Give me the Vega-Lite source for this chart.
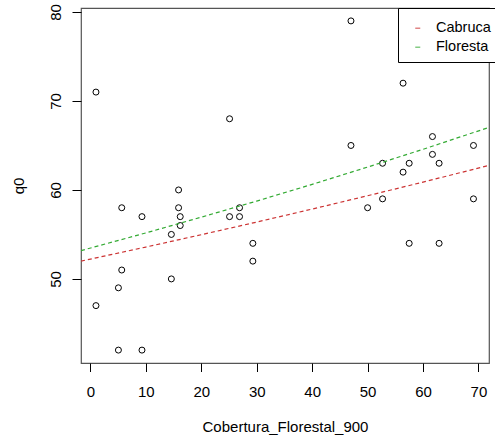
{
  "$schema": "https://vega.github.io/schema/vega-lite/v6.json",
  "width": 408,
  "height": 355,
  "autosize": "none",
  "padding": {"left": 81, "top": 8, "right": 6, "bottom": 80},
  "background": "white",
  "config": {
    "font": "Liberation Sans",
    "view": {"stroke": "#555555", "strokeWidth": 1.2},
    "axis": {
      "grid": false,
      "domain": false,
      "tickColor": "#000000",
      "tickSize": 9,
      "labelFont": "Liberation Sans",
      "labelFontSize": 15,
      "labelColor": "#000000",
      "titleFont": "Liberation Sans",
      "titleFontSize": 15,
      "titleFontWeight": "normal",
      "titleColor": "#000000"
    }
  },
  "datasets": {
    "pts": [
      {"cobertura": 1.0, "q0": 71}, {"cobertura": 1.0, "q0": 47},
      {"cobertura": 5.05, "q0": 49}, {"cobertura": 5.05, "q0": 42},
      {"cobertura": 5.65, "q0": 58}, {"cobertura": 5.65, "q0": 51},
      {"cobertura": 9.3, "q0": 57}, {"cobertura": 9.3, "q0": 42},
      {"cobertura": 14.6, "q0": 55}, {"cobertura": 14.6, "q0": 50},
      {"cobertura": 15.9, "q0": 60}, {"cobertura": 15.9, "q0": 58},
      {"cobertura": 16.2, "q0": 57}, {"cobertura": 16.2, "q0": 56},
      {"cobertura": 25.1, "q0": 68}, {"cobertura": 25.1, "q0": 57},
      {"cobertura": 26.9, "q0": 58}, {"cobertura": 26.9, "q0": 57},
      {"cobertura": 29.3, "q0": 54}, {"cobertura": 29.3, "q0": 52},
      {"cobertura": 47.0, "q0": 79}, {"cobertura": 47.0, "q0": 65},
      {"cobertura": 50.0, "q0": 58},
      {"cobertura": 52.7, "q0": 63}, {"cobertura": 52.7, "q0": 59},
      {"cobertura": 56.4, "q0": 72}, {"cobertura": 56.4, "q0": 62},
      {"cobertura": 57.5, "q0": 63}, {"cobertura": 57.5, "q0": 54},
      {"cobertura": 61.7, "q0": 66}, {"cobertura": 61.7, "q0": 64},
      {"cobertura": 62.9, "q0": 63}, {"cobertura": 62.9, "q0": 54},
      {"cobertura": 69.1, "q0": 65}, {"cobertura": 69.1, "q0": 59}
    ],
    "fit": [
      {"grupo": "Cabruca", "cobertura": -1.7, "q0": 52.0},
      {"grupo": "Cabruca", "cobertura": 10, "q0": 53.58},
      {"grupo": "Cabruca", "cobertura": 20, "q0": 54.97},
      {"grupo": "Cabruca", "cobertura": 30, "q0": 56.39},
      {"grupo": "Cabruca", "cobertura": 40, "q0": 57.85},
      {"grupo": "Cabruca", "cobertura": 50, "q0": 59.35},
      {"grupo": "Cabruca", "cobertura": 60, "q0": 60.88},
      {"grupo": "Cabruca", "cobertura": 71.9, "q0": 62.76},
      {"grupo": "Floresta", "cobertura": -1.7, "q0": 53.18},
      {"grupo": "Floresta", "cobertura": 10, "q0": 55.17},
      {"grupo": "Floresta", "cobertura": 20, "q0": 56.94},
      {"grupo": "Floresta", "cobertura": 30, "q0": 58.75},
      {"grupo": "Floresta", "cobertura": 40, "q0": 60.63},
      {"grupo": "Floresta", "cobertura": 50, "q0": 62.57},
      {"grupo": "Floresta", "cobertura": 60, "q0": 64.57},
      {"grupo": "Floresta", "cobertura": 71.9, "q0": 67.03}
    ]
  },
  "layer": [
    {
      "data": {"name": "pts"},
      "mark": {"type": "point", "shape": "circle", "filled": false, "color": "#000000", "size": 36, "strokeWidth": 1, "opacity": 1},
      "encoding": {
        "x": {
          "field": "cobertura", "type": "quantitative",
          "scale": {"domain": [-1.7, 71.9], "nice": false, "zero": false},
          "axis": {"title": "Cobertura_Florestal_900", "values": [0, 10, 20, 30, 40, 50, 60, 70], "tickSize": 8.5, "labelPadding": 12.5, "titlePadding": 20.5}
        },
        "y": {
          "field": "q0", "type": "quantitative",
          "scale": {"domain": [40.55, 80.45], "nice": false, "zero": false},
          "axis": {"title": "q0", "values": [50, 60, 70, 80], "labelAngle": -90, "labelAlign": "center", "labelBaseline": "middle", "labelPadding": 16.5, "titlePadding": 22}
        }
      }
    },
    {
      "data": {"name": "fit"},
      "mark": {"type": "line", "strokeDash": [4, 3], "strokeWidth": 1.2, "clip": true},
      "encoding": {
        "x": {"field": "cobertura", "type": "quantitative"},
        "y": {"field": "q0", "type": "quantitative"},
        "color": {
          "field": "grupo", "type": "nominal",
          "scale": {"domain": ["Cabruca", "Floresta"], "range": ["#cc3333", "#33aa33"]},
          "legend": {
            "title": " ",
            "titleFontSize": 1,
            "titlePadding": 4,
            "orient": "none",
            "legendX": 317,
            "legendY": 0,
            "fillColor": "white",
            "strokeColor": "#000000",
            "padding": 8,
            "symbolType": "stroke",
            "symbolSize": 25,
            "symbolStrokeWidth": 1.5,
            "symbolOpacity": 0.6,
            "symbolDash": [],
            "symbolOffset": 4.5,
            "labelFontSize": 14.5,
            "labelFont": "Liberation Sans",
            "labelColor": "#000000",
            "labelOffset": 11,
            "rowPadding": 4
          }
        }
      }
    }
  ]
}
